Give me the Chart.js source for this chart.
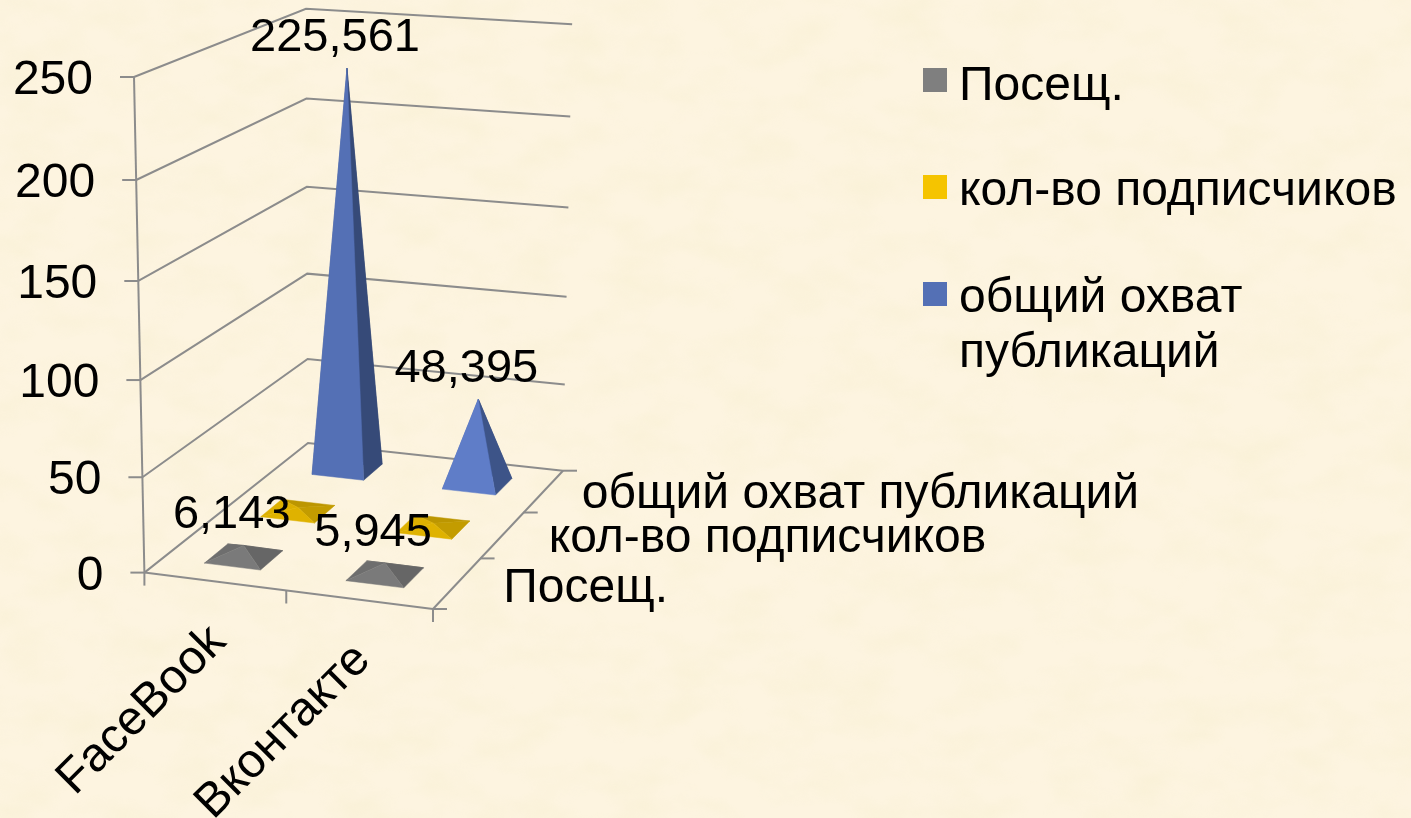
<!DOCTYPE html>
<html lang="ru">
<head>
<meta charset="utf-8">
<title>Pyramid chart</title>
<script src="https://cdn.jsdelivr.net/npm/chart.js@4"></script>
<style>
html,body{margin:0;padding:0;width:1411px;height:818px;overflow:hidden;background:#FCF3DC}
#bg{position:absolute;left:0;top:0}
canvas#c{position:absolute;left:0;top:0}
</style>
</head>
<body>
<svg id="bg" width="1411" height="818" xmlns="http://www.w3.org/2000/svg">
  <filter id="n" x="0" y="0" width="100%" height="100%">
    <feTurbulence type="fractalNoise" baseFrequency="0.018 0.03" numOctaves="3" seed="7"/>
    <feColorMatrix type="matrix" values="0 0 0 0 0.90  0 0 0 0 0.84  0 0 0 0 0.58  1.6 0 0 0 -0.62"/>
  </filter>
  <rect width="1411" height="818" fill="#FDF4E0"/>
  <rect width="1411" height="818" filter="url(#n)" opacity="0.4"/>
</svg>
<canvas id="c" width="1411" height="818"></canvas>
<script>
const categories = ['FaceBook', 'Вконтакте'];
const seriesNames = ['Посещ.', 'кол-во подписчиков', 'общий охват публикаций'];
const visits = [6.143, 5.945];
const subscribers = [2.0, 2.0];
const reach = [225.561, 48.395];
const valueTicksStep = 50;
const valueMax = 250;

const FONT = '48px "Liberation Sans", Arial, sans-serif';
const VALUE_FONT = '47px "Liberation Sans", Arial, sans-serif';
const LINE = '#8C8C8C';
const faces = [
  { legend:'#7F7F7F', back:['#565656','#565656'], left:['#6E6E6E','#6E6E6E'], right:['#666666','#666666'], front:['#7A7A7A','#7A7A7A'] },
  { legend:'#F5C400', back:['#BC9600','#BC9600'], left:['#DDB000','#DDB000'], right:['#C39C00','#C39C00'], front:['#DFB200','#DFB200'] },
  { legend:'#5470B5', back:['#2F4270','#34497C'], left:['#4A64A2','#5570B5'], right:['#364A78','#3D5488'], front:['#5470B5','#5F7DC8'] }
];

/* Perspective of the 3-D frame: unit cube (u along categories, w along series, v along values) to canvas */
const H = (function(){
  const p0=[144.4,572.6],p1=[433,609],p2=[563,470.7],p3=[308,443];
  const dx1=p1[0]-p2[0],dx2=p3[0]-p2[0],sx=p0[0]-p1[0]+p2[0]-p3[0];
  const dy1=p1[1]-p2[1],dy2=p3[1]-p2[1],sy=p0[1]-p1[1]+p2[1]-p3[1];
  const det=dx1*dy2-dx2*dy1;
  const g=(sx*dy2-dx2*sy)/det,h=(dx1*sy-sx*dy1)/det,i=-0.047;
  return {g,h,i,
    ax:p1[0]*(1+g)-p0[0],bx:p3[0]*(1+h)-p0[0],cx:134*(1+i)-p0[0],dx:p0[0],
    ay:p1[1]*(1+g)-p0[1],by:p3[1]*(1+h)-p0[1],cy:77*(1+i)-p0[1],dy:p0[1]};
})();
function project(u,w,v){
  const d=1+H.g*u+H.h*w+H.i*v;
  return [(H.ax*u+H.bx*w+H.cx*v+H.dx)/d,(H.ay*u+H.by*w+H.cy*v+H.dy)/d];
}
const norm = {
  u:(s,px)=>(px-s.left)/s.width,
  w:(s,px)=>(px-s.left)/s.width,
  v:(s,px)=>(s.bottom-px)/s.height
};
function poly(ctx,pts,fill){
  ctx.beginPath();
  pts.forEach((p,i)=>i?ctx.lineTo(p[0],p[1]):ctx.moveTo(p[0],p[1]));
  ctx.closePath();
  ctx.fillStyle=fill;ctx.strokeStyle=fill;ctx.lineWidth=0.5;
  ctx.fill();ctx.stroke();
}
function seg(ctx,a,b){ctx.beginPath();ctx.moveTo(a[0],a[1]);ctx.lineTo(b[0],b[1]);ctx.stroke();}

class PyramidController extends Chart.BarController {
  draw(){
    const chart=this.chart,ctx=chart.ctx,meta=this.getMeta();
    const sx=chart.scales.x,sy=chart.scales.y,sd=chart.scales.depth;
    const ds=this.index,w=norm.w(sd,sd.getPixelForValue(ds));
    const halfW=sd.width?(1/seriesNames.length)/2.5/2:0;
    const st=faces[ds];
    meta.data.forEach((bar,i)=>{
      const u=norm.u(sx,bar.x),hu=bar.width/sx.width/2,v=norm.v(sy,bar.y);
      const fl=project(u-hu,w-halfW,0),fr=project(u+hu,w-halfW,0),
            br=project(u+hu,w+halfW,0),bl=project(u-hu,w+halfW,0),
            top=project(u,w,v);
      poly(ctx,[bl,br,top],st.back[i]);
      poly(ctx,[fl,bl,top],st.left[i]);
      poly(ctx,[fr,br,top],st.right[i]);
      poly(ctx,[fl,fr,top],st.front[i]);
    });
  }
}
PyramidController.id='pyramid3d';
PyramidController.defaults=Chart.BarController.defaults;
PyramidController.overrides=Chart.BarController.overrides;
Chart.register(PyramidController);

const frame3d={
  id:'frame3d',
  beforeDatasetsDraw(chart){
    const ctx=chart.ctx,sy=chart.scales.y;
    ctx.save();
    ctx.strokeStyle=LINE;ctx.lineWidth=2;
    sy.ticks.forEach(t=>{
      const v=norm.v(sy,sy.getPixelForValue(t.value));
      const a=project(0,0,v),b=project(0,1,v),c=project(1,1,v);
      ctx.beginPath();ctx.moveTo(a[0],a[1]);ctx.lineTo(b[0],b[1]);ctx.lineTo(c[0],c[1]);ctx.stroke();
      seg(ctx,[a[0]-14,a[1]],a);
      ctx.fillStyle='#000';ctx.font=FONT;ctx.textAlign='right';ctx.textBaseline='alphabetic';
      ctx.fillText(String(t.value),a[0]-41,a[1]+17);
    });
    seg(ctx,project(0,0,0),project(0,0,1));
    seg(ctx,project(0,0,0),project(1,0,0));
    seg(ctx,project(1,0,0),project(1,1,0));
    const nc=categories.length,ns=seriesNames.length;
    for(let i=0;i<=nc;i++){const p=project(i/nc,0,0);seg(ctx,p,[p[0],p[1]+13]);}
    for(let i=0;i<=ns;i++){const p=project(1,i/ns,0);seg(ctx,p,[p[0]+14,p[1]]);}
    ctx.restore();
  },
  afterDatasetsDraw(chart){
    const ctx=chart.ctx,sx=chart.scales.x,sy=chart.scales.y,sd=chart.scales.depth;
    ctx.save();
    ctx.fillStyle='#000';ctx.font=VALUE_FONT;ctx.textBaseline='alphabetic';
    /* value labels */
    [0,2].forEach(ds=>{
      const w=norm.w(sd,sd.getPixelForValue(ds));
      chart.getDatasetMeta(ds).data.forEach((bar,i)=>{
        const val=chart.data.datasets[ds].data[i];
        const p=project(norm.u(sx,bar.x),w,norm.v(sy,bar.y));
        ctx.textAlign='center';
        ctx.fillText(val.toFixed(3).replace('.',','),p[0]-12,p[1]-17);
      });
    });
    ctx.font=FONT;
    /* series axis labels */
    const depthDx=[46,46,38],depthDy=[19,17,17];
    ctx.textAlign='left';
    seriesNames.forEach((name,i)=>{
      const p=project(1,norm.w(sd,sd.getPixelForValue(i)),0);
      ctx.fillText(name,p[0]+depthDx[i],p[1]+depthDy[i]);
    });
    /* category labels */
    categories.forEach((name,i)=>{
      const p=project(norm.u(sx,sx.getPixelForValue(i)),0,0);
      ctx.save();
      ctx.translate(p[0]+13,p[1]+62);
      ctx.rotate(-Math.PI/4);
      ctx.textAlign='right';
      ctx.fillText(name,0,0);
      ctx.restore();
    });
    /* legend */
    const rows=[{y:68,lines:[seriesNames[0]],base:[100]},
                {y:175,lines:[seriesNames[1]],base:[205]},
                {y:282,lines:['общий охват','публикаций'],base:[312,367]}];
    ctx.textAlign='left';
    rows.forEach((r,i)=>{
      ctx.fillStyle=faces[i].legend;ctx.fillRect(923,r.y,24,24);
      ctx.fillStyle='#000';
      r.lines.forEach((t,j)=>ctx.fillText(t,959,r.base[j]));
    });
    ctx.restore();
  }
};

new Chart(document.getElementById('c'),{
  type:'pyramid3d',
  data:{
    labels:categories,
    datasets:[
      {label:seriesNames[0],data:visits,backgroundColor:faces[0].legend},
      {label:seriesNames[1],data:subscribers,backgroundColor:faces[1].legend},
      {label:seriesNames[2],data:reach,backgroundColor:faces[2].legend}
    ]
  },
  options:{
    responsive:false,animation:false,
    layout:{padding:0},
    datasets:{pyramid3d:{grouped:false,barPercentage:0.4,categoryPercentage:1,clip:false}},
    plugins:{legend:{display:false},tooltip:{enabled:false},title:{display:false}},
    scales:{
      x:{type:'category',offset:true,display:false,grid:{display:false}},
      y:{type:'linear',min:0,max:valueMax,display:false,ticks:{stepSize:valueTicksStep}},
      depth:{type:'category',axis:'x',position:'bottom',labels:seriesNames,offset:true,display:false}
    }
  },
  plugins:[frame3d]
});
</script>
</body>
</html>
